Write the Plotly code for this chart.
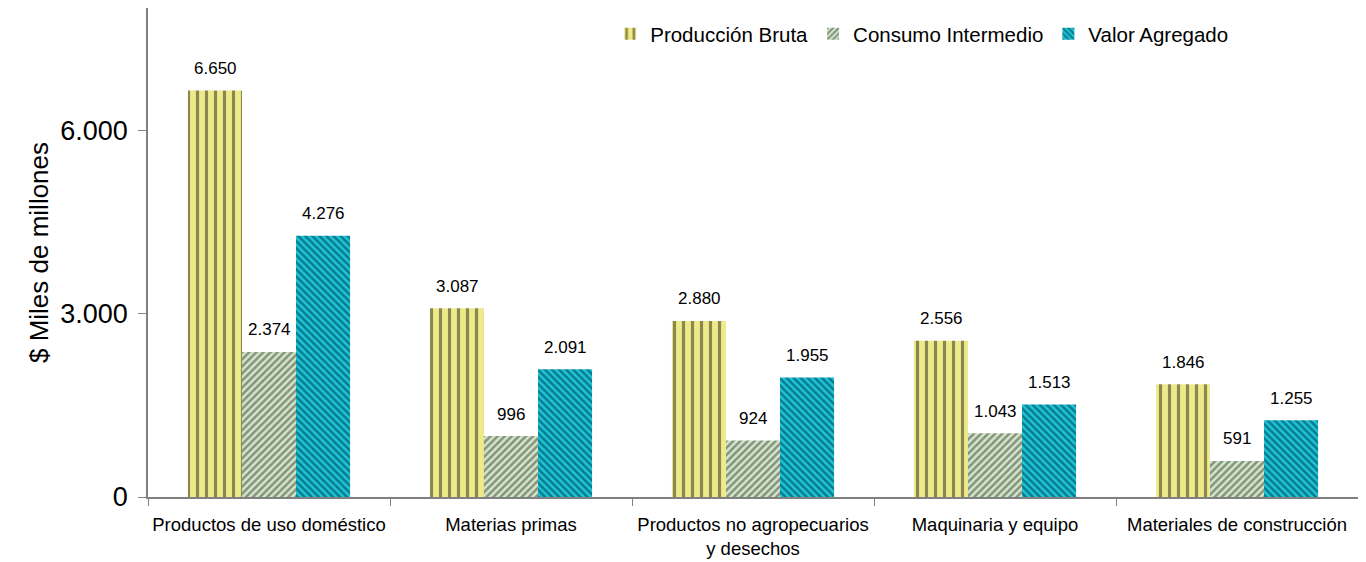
import plotly.graph_objects as go

# categories and values ($ miles de millones)
categorias = ['Productos de uso doméstico', 'Materias primas',
              'Productos no agropecuarios<br>y desechos', 'Maquinaria y equipo',
              'Materiales de construcción']
produccion_bruta = [6650, 3087, 2880, 2556, 1846]
consumo_intermedio = [2374, 996, 924, 1043, 591]
valor_agregado = [4276, 2091, 1955, 1513, 1255]

y_ticks = [0, 3000, 6000]
y_tick_labels = ['0', '3.000', '6.000']


def fmt(v):
    return f'{v:,}'.replace(',', '.')


series = [
    ('Producción Bruta', produccion_bruta, '|', '#8A8850', '#EEEA8A', 9, 0.35),
    ('Consumo Intermedio', consumo_intermedio, '/', '#8A8E84', '#CDEBC4', 5, 0.5),
    ('Valor Agregado', valor_agregado, '\\', '#0A7C88', '#1CC4DE', 5, 0.5),
]

fig = go.Figure()
for name, vals, shape, fg, bg, sz, sol in series:
    fig.add_trace(go.Bar(
        x=categorias, y=vals, name=name,
        marker=dict(color=bg, line=dict(width=0),
                    pattern=dict(shape=shape, fgcolor=fg, bgcolor=bg,
                                 size=sz, solidity=sol, fillmode='replace')),
    ))

# data labels above each bar
offsets = [-54, 0, 54]
for (name, vals, *_), dx in zip(series, offsets):
    for cat, v in zip(categorias, vals):
        fig.add_annotation(x=cat, y=v, text=fmt(v), xref='x', yref='y',
                           xshift=dx, yshift=22, showarrow=False,
                           font=dict(size=17, color='#000000'))

fig.update_layout(
    width=1366, height=562,
    margin=dict(l=140, r=16, t=0, b=73, autoexpand=False),
    plot_bgcolor='white', paper_bgcolor='white',
    font=dict(family='Liberation Sans, Arial', color='#000000'),
    barmode='group', bargap=0.33, bargroupgap=0,
    legend=dict(orientation='h', x=0.382, y=0.988, xanchor='left', yanchor='top',
                font=dict(size=20.5), itemwidth=30, tracegroupgap=0,
                bgcolor='rgba(0,0,0,0)'),
)
fig.update_xaxes(
    showline=True, linecolor='#808080', linewidth=1.5,
    ticks='outside', tickson='boundaries', ticklen=7, tickcolor='#808080',
    ticklabelstandoff=10,
    tickfont=dict(size=18.5), tickangle=0, showgrid=False, automargin=False,
)
fig.update_yaxes(
    range=[0, 8000], tickvals=y_ticks, ticktext=y_tick_labels,
    showline=True, linecolor='#808080', linewidth=1.5,
    ticks='outside', ticklen=8, tickcolor='#808080', ticklabelstandoff=5,
    tickfont=dict(size=27), showgrid=False, zeroline=False, automargin=False,
    title=dict(text='$ Miles de millones', font=dict(size=26), standoff=4),
)

fig.write_html('out.html')
